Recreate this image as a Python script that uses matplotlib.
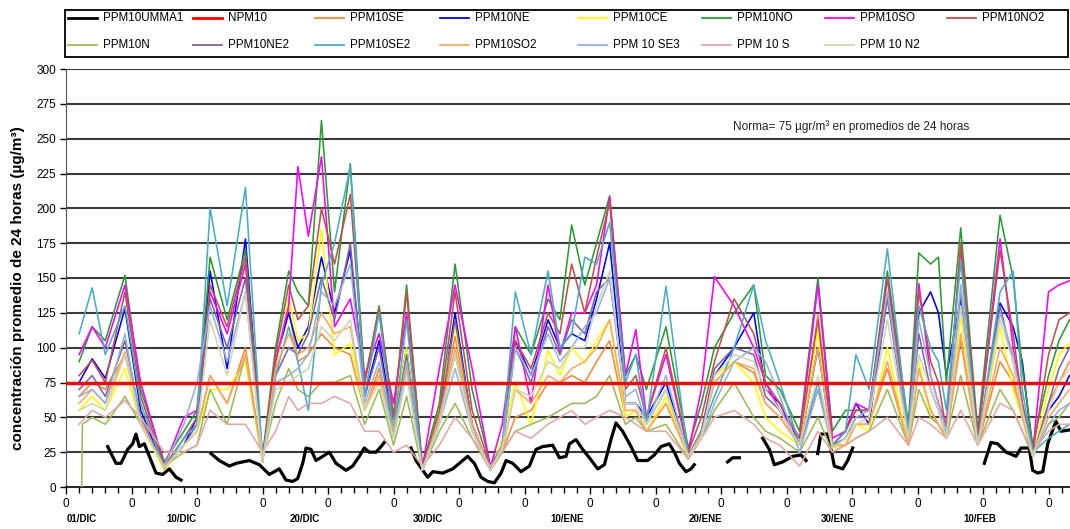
import numpy as np
import matplotlib
matplotlib.use("Agg")
import matplotlib.pyplot as plt
import matplotlib.transforms as mtransforms
from matplotlib.lines import Line2D
from matplotlib.patches import Rectangle

plt.rcParams['font.family'] = ['Liberation Sans', 'DejaVu Sans']

# ---------------- data ----------------
# time in days from 01/DIC 00h (shared knots for station series)
T = [1.0, 2.0, 3.0, 4.5, 5.7, 7.5, 9.0, 10.0, 11.0, 12.3, 13.7, 15.0, 16.0, 17.0, 17.7,
     18.5, 19.5, 20.5, 21.7, 22.8, 23.9, 25.0, 26.0, 27.2, 28.5, 29.7, 31.0, 32.4, 33.3,
     34.3, 35.5, 36.8, 37.7, 38.6, 39.6, 40.5, 41.5, 42.7, 43.5, 44.3, 45.8, 47.5, 48.5,
     49.5, 51.0, 52.5, 53.4, 54.5, 56.0, 57.4, 58.5, 59.5, 60.3, 61.3, 62.7, 64.3, 65.1,
     66.0, 66.6, 67.2, 68.3, 69.6, 71.3, 72.3, 73.0, 73.8, 75.0, 75.8, 76.6]

PPM10NO = [90, 115, 105, 152, 70, 18, 40, 55, 165, 120, 170, 22, 100, 155, 140, 130, 263, 140,
           232, 75, 130, 50, 145, 15, 60, 160, 70, 15, 30, 115, 95, 135, 120, 188, 145, 175, 209,
           80, 95, 70, 115, 28, 60, 100, 125, 145, 80, 70, 40, 150, 40, 55, 55, 55, 155, 45,
           168, 160, 165, 75, 186, 40, 195, 150, 85, 30, 80, 105, 120]
PPM10SO = [95, 115, 100, 145, 75, 15, 50, 55, 140, 110, 160, 20, 90, 130, 230, 180, 237, 115,
           135, 80, 110, 60, 125, 14, 85, 145, 85, 14, 45, 115, 60, 145, 95, 125, 125, 145, 208,
           80, 113, 50, 95, 25, 70, 151, 130, 100, 75, 55, 35, 145, 35, 40, 60, 55, 150, 40,
           146, 80, 60, 45, 172, 35, 178, 100, 60, 25, 140, 145, 148]
PPM10NE = [75, 92, 78, 128, 55, 14, 30, 50, 155, 85, 178, 18, 90, 125, 100, 115, 165, 125,
           170, 65, 105, 45, 100, 12, 50, 125, 45, 12, 28, 105, 80, 120, 100, 110, 105, 135, 175,
           60, 60, 50, 75, 22, 40, 80, 100, 125, 70, 60, 30, 100, 30, 40, 60, 45, 138, 35,
           125, 140, 125, 80, 135, 30, 132, 115, 90, 25, 55, 65, 80]
PPM10SE2 = [110, 143, 95, 130, 60, 13, 35, 45, 200, 130, 215, 20, 80, 115, 90, 55, 145, 175,
            230, 65, 125, 40, 120, 12, 50, 95, 45, 12, 30, 140, 95, 155, 100, 110, 165, 160,
            190, 75, 95, 45, 144, 22, 40, 65, 100, 145, 105, 75, 30, 75, 30, 40, 95, 70, 171,
            40, 130, 100, 90, 55, 162, 30, 140, 155, 70, 25, 35, 40, 45]
PPM10NO2 = [80, 91, 75, 140, 65, 15, 35, 50, 145, 115, 165, 20, 95, 145, 120, 130, 200, 160,
            210, 75, 128, 50, 140, 14, 55, 140, 55, 14, 28, 105, 85, 125, 110, 160, 125, 165,
            205, 70, 80, 50, 100, 25, 50, 90, 135, 110, 75, 60, 35, 120, 30, 40, 55, 55, 150,
            40, 140, 90, 75, 40, 175, 35, 170, 110, 60, 25, 95, 120, 125]
PPM10CE = [55, 65, 55, 85, 45, 12, 30, 40, 70, 70, 90, 18, 85, 136, 105, 110, 185, 95, 103,
           55, 80, 45, 100, 12, 60, 115, 45, 12, 35, 75, 45, 98, 80, 100, 89, 105, 120, 50, 55,
           40, 65, 20, 35, 80, 90, 75, 50, 40, 30, 112, 28, 30, 45, 40, 100, 30, 90, 50, 45,
           35, 122, 30, 115, 70, 50, 22, 70, 95, 103]
PPM10SE = [65, 75, 70, 95, 50, 13, 30, 40, 80, 60, 100, 18, 90, 128, 90, 95, 110, 100, 95, 55,
           85, 40, 90, 12, 50, 108, 45, 12, 25, 50, 55, 75, 75, 80, 75, 90, 105, 50, 55, 40,
           60, 22, 40, 75, 90, 82, 60, 50, 30, 124, 30, 30, 45, 45, 85, 30, 85, 55, 45, 35,
           105, 30, 90, 75, 50, 22, 60, 75, 90]
PPM10NE2 = [70, 80, 65, 105, 50, 14, 30, 45, 135, 100, 150, 18, 80, 100, 95, 110, 150, 120,
            175, 65, 100, 40, 95, 12, 50, 120, 45, 12, 28, 100, 75, 115, 95, 120, 110, 140, 150,
            60, 60, 45, 70, 22, 40, 85, 100, 95, 65, 55, 30, 70, 30, 35, 50, 50, 135, 35, 110,
            70, 55, 35, 140, 30, 130, 90, 55, 22, 60, 85, 100]
PPM10SE3 = [65, 70, 60, 110, 45, 15, 45, 75, 130, 90, 140, 20, 75, 80, 85, 95, 140, 130, 160,
            60, 90, 35, 90, 12, 45, 85, 40, 12, 30, 100, 80, 110, 90, 100, 115, 125, 150, 65,
            70, 45, 80, 22, 35, 60, 90, 100, 90, 65, 25, 70, 28, 35, 50, 55, 140, 35, 120, 80,
            60, 40, 145, 30, 125, 95, 55, 22, 45, 55, 60]
PPM10N_T = [1.2, 1.25] + T[1:]
PPM10N = [0, 45, 50, 45, 65, 45, 15, 25, 30, 70, 45, 95, 20, 60, 85, 70, 65, 75, 75, 80, 45,
          70, 30, 65, 12, 40, 60, 35, 12, 25, 40, 45, 50, 55, 60, 60, 65, 80, 45, 50, 40, 45,
          20, 35, 55, 75, 50, 40, 35, 25, 50, 25, 30, 35, 40, 70, 30, 70, 50, 45, 35, 80, 30,
          70, 55, 40, 22, 45, 50, 60]
PPM10S = [45, 55, 50, 62, 50, 25, 25, 30, 55, 45, 45, 25, 40, 65, 55, 60, 60, 65, 60, 40, 40,
          25, 30, 15, 30, 50, 35, 15, 25, 40, 35, 45, 50, 55, 45, 50, 55, 50, 45, 40, 40, 20,
          35, 50, 55, 45, 35, 30, 15, 40, 25, 30, 35, 40, 50, 30, 50, 45, 40, 35, 55, 30, 60,
          55, 40, 25, 40, 45, 45]
PPM10N2 = [55, 60, 55, 95, 45, 14, 30, 40, 120, 80, 140, 18, 70, 75, 80, 85, 115, 105, 120,
           55, 75, 35, 80, 12, 45, 95, 40, 12, 28, 70, 65, 90, 85, 100, 100, 130, 155, 60, 60,
           45, 70, 22, 35, 80, 95, 90, 70, 55, 30, 80, 28, 35, 45, 50, 120, 35, 95, 70, 55, 35,
           130, 30, 120, 90, 55, 22, 55, 75, 85]
PPM10SO2 = [60, 70, 60, 97, 48, 13, 30, 40, 80, 60, 95, 18, 85, 110, 95, 100, 125, 110, 115,
            55, 80, 40, 85, 12, 50, 100, 45, 12, 25, 70, 60, 80, 75, 85, 90, 100, 120, 55, 55,
            40, 60, 22, 38, 75, 90, 85, 60, 50, 30, 100, 30, 30, 45, 45, 90, 30, 85, 55, 45, 35,
            110, 30, 100, 80, 50, 22, 50, 60, 70]

# PPM10UMMA1 (black), NaN separates gaps
UMMA1_T = [3.18, 3.82, 4.2, 4.71, 5.09, 5.34, 5.6, 5.98, 6.49, 6.87, 7.38, 7.89, 8.4, 8.78, np.nan,
           11.07, 11.7, 12.47, 12.98, 13.99, 14.76, 15.52, 16.28, 16.79, 17.3, 17.68, 18.07,
           18.32, 18.7, 19.08, 19.6, 20.1, 20.61, 21.37, 21.88, 22.39, 22.77, 23.15, 23.66,
           24.05, 24.3, np.nan,
           26.34, 26.72, 27.23, 27.61, 28.0, 28.76, 29.52, 30.66, 31.17, 31.68, 32.19, 32.7,
           33.21, 33.59, 34.1, 34.73, 35.37, 35.88, 36.39, 37.15, 37.66, 38.17, 38.43, 38.93,
           39.44, 39.95, 40.59, 41.1, 41.6, 41.98, 42.49, 43.13, 43.64, 44.4, 44.91, 45.42,
           46.05, 46.44, 46.82, 47.33, 47.71, 47.96, np.nan,
           50.5, 50.89, 51.4, np.nan,
           53.18, 53.69, 54.07, 54.71, 55.47, 56.11, 56.49, np.nan,
           57.38, 57.63, 58.14, 58.4, 58.65, 59.29, 59.67, 60.05, np.nan,
           70.1, 70.61, 71.12, 71.76, 72.52, 72.9, 73.53, 73.79, 74.17, 74.56, 74.94, 75.32,
           75.57, 75.95, 76.64]
UMMA1 = [29, 17, 17, 27, 31, 38, 29, 31, 19, 10, 9, 13, 7, 5, np.nan,
         24, 19, 15, 17, 19, 16, 9, 13, 5, 4, 6, 17, 28, 27, 19, 22, 25, 17, 12, 15, 22, 28,
         25, 25, 29, 32, np.nan,
         28, 19, 12, 7, 11, 10, 13, 22, 17, 7, 4, 3, 10, 19, 17, 11, 15, 27, 29, 30, 21, 22,
         31, 34, 27, 21, 13, 16, 34, 46, 40, 29, 19, 19, 23, 29, 31, 25, 17, 11, 13, 16, np.nan,
         18, 21, 21, np.nan,
         35, 27, 16, 18, 22, 23, 19, np.nan,
         24, 38, 38, 27, 15, 13, 19, 28, np.nan,
         17, 32, 31, 25, 22, 28, 28, 12, 10, 11, 31, 41, 47, 40, 41]

NPM10_LIMIT = 75
X_END = 76.64

Y_TICKS = list(range(0, 301, 25))
DATE_LABELS = ['01/DIC', '10/DIC', '20/DIC', '30/DIC', '10/ENE', '20/ENE', '30/ENE', '10/FEB']
DATE_LABEL_POS = [1.22, 8.85, 18.24, 27.63, 38.24, 48.78, 58.93, 69.77]

ROW1 = ['PPM10UMMA1', 'NPM10', 'PPM10SE', 'PPM10NE', 'PPM10CE', 'PPM10NO', 'PPM10SO', 'PPM10NO2']
ROW2 = ['PPM10N', 'PPM10NE2', 'PPM10SE2', 'PPM10SO2', 'PPM 10 SE3', 'PPM 10 S', 'PPM 10 N2']

# ---------------- figure ----------------
W, H = 1070, 529
fig = plt.figure(figsize=(W / 100, H / 100), dpi=100)
ax = fig.add_axes([66 / W, 42 / H, 1004 / W, 418 / H])

for y in Y_TICKS[1:]:
    ax.axhline(y, color='#3a3a3a', lw=1.5, zorder=1)

series = [
    ('PPM10UMMA1', None, 'black', 2.3),
    ('NPM10', None, '#FF0000', 2.4),
    ('PPM10SE', PPM10SE, '#F58A3C', 1.15),
    ('PPM10NE', PPM10NE, '#0000FF', 1.15),
    ('PPM10CE', PPM10CE, '#FFFF00', 1.15),
    ('PPM10NO', PPM10NO, '#2E9A36', 1.15),
    ('PPM10SO', PPM10SO, '#FF00FF', 1.15),
    ('PPM10NO2', PPM10NO2, '#C0504D', 1.15),
    ('PPM10N', PPM10N, '#9BBB59', 1.15),
    ('PPM10NE2', PPM10NE2, '#8064A2', 1.15),
    ('PPM10SE2', PPM10SE2, '#4BACC6', 1.15),
    ('PPM10SO2', PPM10SO2, '#F9A868', 1.15),
    ('PPM 10 SE3', PPM10SE3, '#95B3D7', 1.15),
    ('PPM 10 S', PPM10S, '#E0A8A6', 1.15),
    ('PPM 10 N2', PPM10N2, '#CFD5B5', 1.15),
]

handles = {}
z = 2
for name, vals, col, lw in series:
    if name == 'PPM10UMMA1':
        h, = ax.plot(UMMA1_T, UMMA1, color=col, lw=lw, zorder=2)
    elif name == 'NPM10':
        h, = ax.plot([0, X_END], [NPM10_LIMIT, NPM10_LIMIT], color=col, lw=lw, zorder=20)
    elif name == 'PPM10N':
        h, = ax.plot(PPM10N_T, vals, color=col, lw=lw, zorder=z)
    else:
        h, = ax.plot(T, vals, color=col, lw=lw, zorder=z)
    z += 0.1
    handles[name] = h

ax.set_xlim(0, X_END)
ax.set_ylim(0, 300)
ax.set_yticks(Y_TICKS)
ax.set_yticklabels([str(v) for v in Y_TICKS], fontsize=8.5)
major = np.arange(0, 76, 5)
ax.set_xticks(major)
ax.set_xticklabels(['0'] * len(major), fontsize=8.5)
ax.set_xticks(np.arange(0, 77, 1), minor=True)
ax.tick_params(axis='x', which='major', length=5, width=1, direction='out', pad=3)
ax.tick_params(axis='x', which='minor', length=4, width=1, direction='out')
ax.tick_params(axis='y', which='major', length=4, width=1, direction='out', pad=3)
for s in ['top', 'right']:
    ax.spines[s].set_visible(False)
ax.spines['left'].set_color('#555555')
ax.spines['bottom'].set_color('black')
ax.spines['bottom'].set_linewidth(1.2)

fig.text(18 / W, 1 - 288 / H, 'concentración promedio de 24 horas (µg/m³)', fontsize=11,
         fontweight='bold', rotation=90, ha='center', va='center')

ax.text(50.9, 259, 'Norma= 75 µgr/m³ en promedios de 24 horas', fontsize=8.5,
        ha='left', va='center', color='#222222')

trans = mtransforms.blended_transform_factory(ax.transData, fig.transFigure)
for lab, pos in zip(DATE_LABELS, DATE_LABEL_POS):
    fig.text(pos, 1 - 519 / H, lab, transform=trans, fontsize=7, fontweight='bold',
             ha='center', va='center')

# legend (Excel style: fixed column slots)
fig.patches.append(Rectangle((65 / W, 1 - 57 / H), 1003 / W, 47 / H, transform=fig.transFigure,
                             fill=False, edgecolor='black', lw=1.3))
col_x = [68, 193, 315, 440, 578, 702, 825, 947]
for row_names, ry in ((ROW1, 18), (ROW2, 45)):
    for name, cx in zip(row_names, col_x):
        h = handles[name]
        lw = 2.0 if name in ('PPM10UMMA1', 'NPM10') else 1.3
        fig.lines.append(Line2D([cx / W, (cx + 29) / W], [1 - ry / H, 1 - ry / H],
                                transform=fig.transFigure, color=h.get_color(), lw=lw))
        fig.text((cx + 35) / W, 1 - ry / H, name, fontsize=8.4, ha='left', va='center')

fig.savefig('out.png', dpi=100)
